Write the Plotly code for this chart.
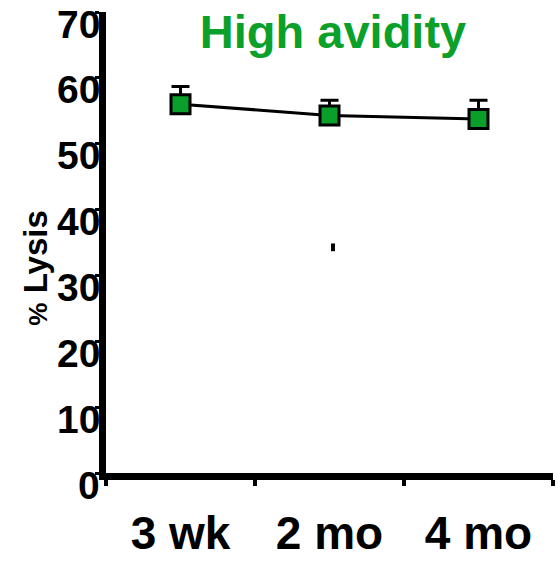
import plotly.graph_objects as go

categories = ["3 wk", "2 mo", "4 mo"]
lysis = [56.0, 54.3, 53.75]
lysis_err = [2.7, 2.3, 2.85]
y_ticks = [0, 10, 20, 30, 40, 50, 60, 70]

FONT = "Liberation Sans, Arial, sans-serif"
L, T, B = 106, 12, 76
PW, PH = 558 - L - 5, 564 - T - B

fig = go.Figure()
fig.add_trace(go.Scatter(
    x=categories, y=lysis, mode="lines+markers",
    line=dict(color="black", width=3),
    marker=dict(symbol="square", size=19, color="#0a9e2a",
                line=dict(color="black", width=3)),
    error_y=dict(type="data", array=lysis_err, arrayminus=[0, 0, 0],
                 symmetric=False, color="black", thickness=3, width=9),
    showlegend=False,
))

fig.add_shape(type="rect", xref="paper", yref="paper",
              x0=(331 - L) / PW, x1=(335 - L) / PW,
              y0=(488 - 259) / PH, y1=(488 - 251) / PH,
              fillcolor="black", line=dict(width=0))

# y tick labels as annotations (offset below their ticks, as in the reference)
for v in y_ticks:
    fig.add_annotation(x=0, xref="paper", y=v, yref="y", text="<b>%d</b>" % v,
                       showarrow=False, xanchor="right", yanchor="middle",
                       xshift=-4, yshift=-12,
                       font=dict(size=39, family=FONT, color="black"))

fig.add_annotation(x=(36 - L) / PW, xref="paper", y=(488 - 277) / PH, yref="paper",
                   text="<b><span style='font-size:26px'>%</span> Lysis</b>",
                   textangle=-90, showarrow=False, xanchor="center", yanchor="middle",
                   font=dict(size=33, family=FONT, color="black"))

fig.update_layout(
    width=558, height=564,
    margin=dict(l=L, r=5, t=T, b=B),
    paper_bgcolor="white", plot_bgcolor="white",
    font=dict(family=FONT, color="black"),
    title=dict(text="<b>High avidity</b>", x=333 / 558, xanchor="center",
               y=1 - 32 / 564, yanchor="middle",
               font=dict(size=47, color="#0aa02a")),
    xaxis=dict(
        type="category", range=[-0.5, 2.5], tickson="boundaries",
        showline=True, linecolor="black", linewidth=7,
        ticks="outside", ticklen=6, tickwidth=4, tickcolor="black",
        tickfont=dict(size=46, family=FONT),
        ticklabelstandoff=14,
        tickvals=categories, ticktext=["<b>%s</b>" % c for c in categories],
        showgrid=False, zeroline=False,
    ),
    yaxis=dict(
        range=[0, 70], tickvals=y_ticks, showticklabels=False,
        showline=True, linecolor="black", linewidth=7,
        ticks="outside", ticklen=4, tickwidth=3, tickcolor="black",
        showgrid=False, zeroline=False,
    ),
)

fig.write_html("out.html")
